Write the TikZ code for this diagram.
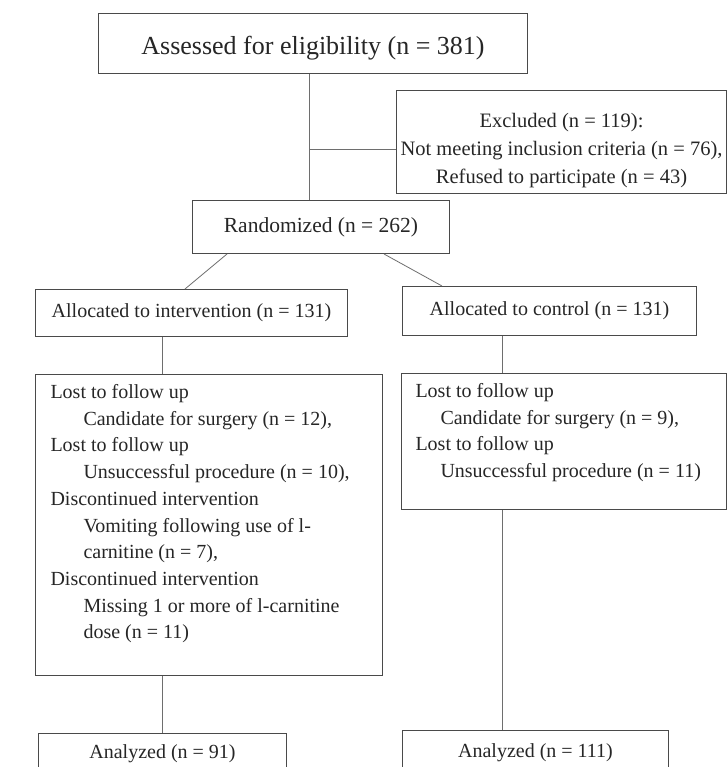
\documentclass[tikz,border=0pt]{standalone}
\usepackage{fontspec}
\setmainfont{Liberation Serif}
\usetikzlibrary{positioning,calc}
\definecolor{boxgray}{HTML}{4A4A4A}
\definecolor{linkgray}{HTML}{6E6E6E}

\begin{document}
\begin{tikzpicture}[x=1pt,y=-1pt,font=\fontsize{20}{26.7}\selectfont,text=black!85,
    box/.style={draw=boxgray,line width=1pt,inner sep=0pt,anchor=north west,align=center},
    lostbox/.style={draw=boxgray,line width=1pt,inner ysep=10pt,anchor=north west},
    link/.style={draw=linkgray,line width=0.8pt}]
  \useasboundingbox (0,0) rectangle (727,767);
  \clip (0,0) rectangle (727,767);
  \fill[white] (0,0) rectangle (727,767);
  \node[box,minimum width=429pt,minimum height=60pt,font=\fontsize{26}{30}\selectfont] (assess) at (98,13) {\rule{0pt}{28pt}Assessed for eligibility (n = 381)};
  \node[box,minimum width=330pt,minimum height=103pt,font=\fontsize{20.5}{28}\selectfont] (excl) at (396,90) {\rule{0pt}{32pt}Excluded (n = 119):\\Not meeting inclusion criteria (n = 76),\\Refused to participate (n = 43)};
  \node[box,minimum width=257pt,minimum height=53pt,font=\fontsize{21.5}{26}\selectfont] (rand) at (192,200) {Randomized (n = 262)};
  \node[box,minimum width=312pt,minimum height=47pt] (alloci) at (35,289) {Allocated to intervention (n = 131)};
  \node[box,minimum width=294pt,minimum height=49pt] (allocc) at (402,286) {Allocated to control (n = 131)};
  \node[lostbox,inner xsep=15pt] (lossi) at (35,374) {\begin{minipage}[t][281pt][t]{317pt}
    Lost to follow up\\
    \hspace*{33pt}Candidate for surgery (n = 12),\\
    Lost to follow up\\
    \hspace*{33pt}Unsuccessful procedure (n = 10),\\
    Discontinued intervention\\
    \hspace*{33pt}Vomiting following use of l-\\
    \hspace*{33pt}carnitine (n = 7),\\
    Discontinued intervention\\
    \hspace*{33pt}Missing 1 or more of l-carnitine\\
    \hspace*{33pt}dose (n = 11)
  \end{minipage}};
  \node[lostbox,inner xsep=14pt] (lossc) at (401,373) {\begin{minipage}[t][116pt][t]{297pt}
    Lost to follow up\\
    \hspace*{25pt}Candidate for surgery (n = 9),\\
    Lost to follow up\\
    \hspace*{25pt}Unsuccessful procedure (n = 11)
  \end{minipage}};
  \node[box,minimum width=248pt,minimum height=40pt] (anai) at (38,733) {Analyzed (n = 91)};
  \node[box,minimum width=266pt,minimum height=44pt] (anac) at (402,730) {Analyzed (n = 111)};
  \coordinate (split) at (309,149);
  \draw[link] ([xshift=-3.5pt]assess.south) -- ([xshift=-3.5pt]assess.south |- rand.north);
  \draw[link] (split) -- (split -| excl.west);
  \draw[link] ([xshift=35pt]rand.south west) -- ([xshift=150pt]alloci.north west);
  \draw[link] ([xshift=-66pt]rand.south east) -- ([xshift=40pt]allocc.north west);
  \draw[link] ([xshift=-29pt]alloci.south) -- ([xshift=-29pt]alloci.south |- lossi.north);
  \draw[link] ([xshift=-47pt]allocc.south) -- ([xshift=-47pt]allocc.south |- lossc.north);
  \draw[link] (lossi.south -| anai.north) -- (anai.north);
  \draw[link] ([xshift=-33pt]anac.north |- lossc.south) -- ([xshift=-33pt]anac.north);
\end{tikzpicture}
\end{document}
